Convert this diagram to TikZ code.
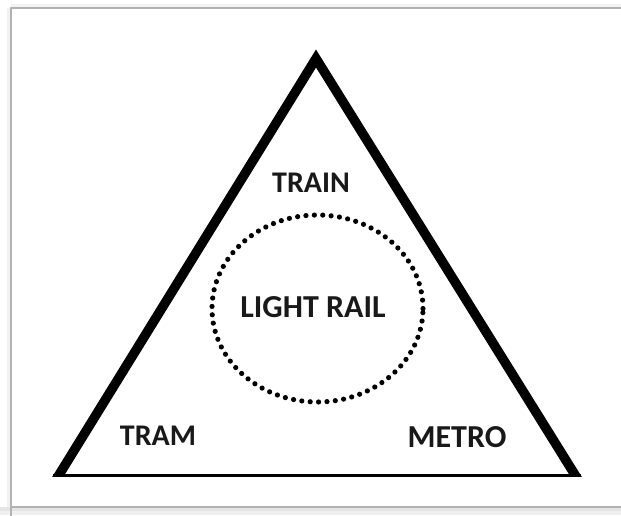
\documentclass[tikz,border=0pt]{standalone}
\usepackage{fontspec}
\setmainfont{Carlito}
\usetikzlibrary{shapes.geometric}
\tikzset{
  label text/.style={font=\fontsize{30}{36}\selectfont\bfseries, inner sep=0pt, text=black!90},
  big text/.style={label text, font=\fontsize{32}{38}\selectfont\bfseries},
  side/.style={line width=9.5pt, line join=miter, draw=black},
  base/.style={line width=3pt, draw=black},
  dotring/.style={ellipse, draw=black, line width=5.2pt, line cap=round,
    dash pattern=on 0pt off 8.4pt, minimum width=211pt, minimum height=187pt, inner sep=0pt},
  frameline/.style={draw=black!30, line width=1.6pt}
}
\begin{document}
\begin{tikzpicture}[x=1pt,y=-1pt]
\useasboundingbox (0,0) rectangle (621,515);
\clip (0,0) rectangle (621,515);
% frame with soft shadow
\fill[black!6] (0,507) rectangle (621,515);
\fill[black!10] (0,507) rectangle (621,511);
\fill[black!5] (11,4) rectangle (621,8);
\fill[black!5] (7,8) rectangle (11,507);
\draw[frameline] (11,520) -- (11,8) -- (640,8);
\draw[frameline] (11,507) -- (640,507);
% triangle
\coordinate (A) at (316,58.5);
\coordinate (B) at (58.3,476);
\coordinate (C) at (575.7,476);
\coordinate (B0) at (49.7,490);
\coordinate (C0) at (584.3,490);
\begin{scope}
  \clip (0,0) rectangle (621,476.5);
  \draw[side] (B0) -- (B) -- (A) -- (C) -- (C0);
\end{scope}
\coordinate (BL) at (53,475);
\coordinate (BR) at (581,475);
\draw[base] (BL) -- (BR);
% dotted ellipse
\node[dotring] (ring) at (317.5,308.5) {};
% labels
\node[label text] (train) at (311,183) {TRAIN};
\node[big text] (lrail) at (313,307) {LIGHT RAIL};
\node[label text] (tram) at (158,436) {TRAM};
\node[big text] (metro) at (457,437) {METRO};
\end{tikzpicture}
\end{document}
